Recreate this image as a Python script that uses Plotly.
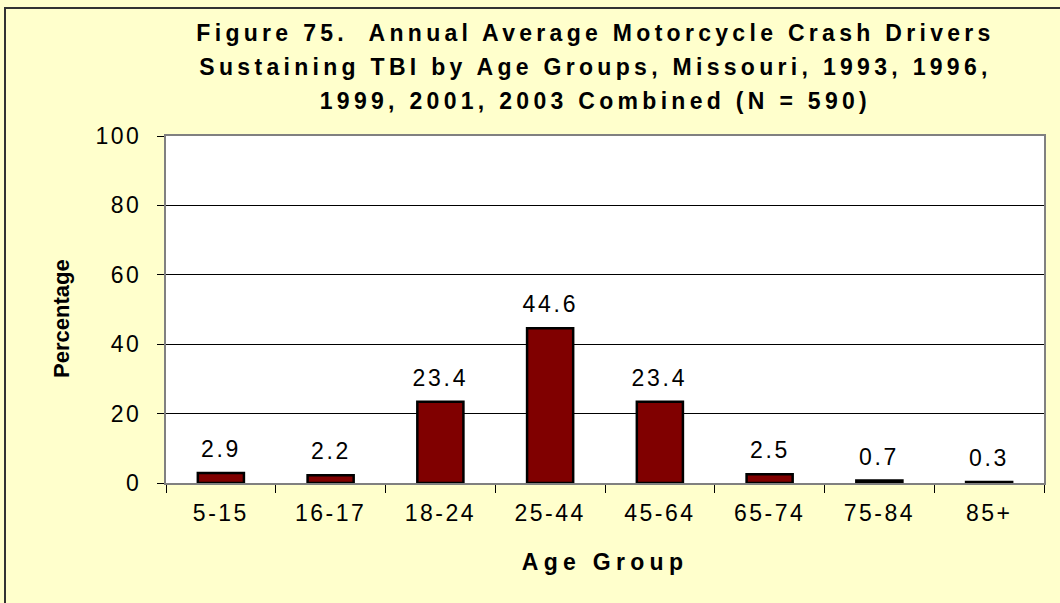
import plotly.graph_objects as go

# Age groups and share (%) of motorcycle crash drivers sustaining TBI
age_groups = ["5-15", "16-17", "18-24", "25-44", "45-64", "65-74", "75-84", "85+"]
percentages = [2.9, 2.2, 23.4, 44.6, 23.4, 2.5, 0.7, 0.3]
y_ticks = [0, 20, 40, 60, 80, 100]
title_lines = [
    "Figure 75.  Annual Average Motorcycle Crash Drivers",
    "Sustaining TBI by Age Groups, Missouri, 1993, 1996,",
    "1999, 2001, 2003 Combined (N = 590)",
]

W, H = 1060, 603
L, R, T, B = 166, 1044, 136, 483
FONT = "Liberation Sans, Arial, sans-serif"


def px_x(px):
    return (px - L) / (R - L)


def px_y(py):
    return (B - py) / (B - T)


fig = go.Figure()
fig.add_trace(go.Bar(
    x=age_groups,
    y=percentages,
    width=0.42,
    marker=dict(color="#800000", line=dict(color="#000000", width=2.5)),
    hoverinfo="x+y",
))

annotations = []
for cat, val in zip(age_groups, percentages):
    annotations.append(dict(
        x=cat, y=val, xref="x", yref="y", text=f"{val:.1f}",
        showarrow=False, yanchor="bottom", yshift=9,
        font=dict(family=FONT, size=23, color="#000000"),
    ))

title_y = [33, 67, 101]
for line, ty in zip(title_lines, title_y):
    annotations.append(dict(
        x=px_x(595), y=px_y(ty), xref="paper", yref="paper", text=f"<b>{line}</b>",
        showarrow=False, xanchor="center", yanchor="middle",
        font=dict(family=FONT, size=23, color="#000000"),
    ))

# vertical axis title
annotations.append(dict(
    x=px_x(61), y=px_y(319), xref="paper", yref="paper", text="<b>Percentage</b>",
    showarrow=False, xanchor="center", yanchor="middle", textangle=-90,
    font=dict(family=FONT, size=22, color="#000000"),
))

shapes = [
    # frame around the whole chart
    dict(type="rect", xref="paper", yref="paper",
         x0=px_x(5), x1=px_x(1075), y0=px_y(8), y1=px_y(620),
         line=dict(color="#333333", width=2), layer="below"),
]

fig.update_layout(
    width=W, height=H,
    margin=dict(l=L, r=W - R, t=T, b=H - B, autoexpand=False),
    paper_bgcolor="#FFFFCC",
    plot_bgcolor="#FFFFFF",
    showlegend=False,
    annotations=annotations,
    shapes=shapes,
    font=dict(family=FONT, color="#000000"),
)

fig.update_xaxes(
    type="category",
    tickson="boundaries",
    ticks="outside", ticklen=8, tickcolor="#000000", tickwidth=1,
    ticklabelstandoff=8,
    tickfont=dict(family=FONT, size=23, color="#000000"),
    showline=True, linecolor="#808080", linewidth=2, mirror=True,
    showgrid=False,
    title=dict(text="<b>Age Group</b>", font=dict(family=FONT, size=23, color="#000000"), standoff=29),
    fixedrange=True,
)
fig.update_yaxes(
    range=[0, 100],
    tickvals=y_ticks,
    ticks="outside", ticklen=7, tickcolor="#000000", tickwidth=1,
    ticklabelstandoff=11,
    tickfont=dict(family=FONT, size=23, color="#000000"),
    showline=True, linecolor="#808080", linewidth=2, mirror=True,
    showgrid=True, gridcolor="#000000", gridwidth=1,
    zeroline=False,
    fixedrange=True,
)

# Widen character tracking on the chart texts
letter_spacing = """
var s = document.createElement('style');
s.textContent = [
  '.xtick text, .ytick text {letter-spacing: 2.5px;}',
  '.annotation[data-index="0"] text, .annotation[data-index="1"] text, .annotation[data-index="2"] text,',
  '.annotation[data-index="3"] text, .annotation[data-index="4"] text, .annotation[data-index="5"] text,',
  '.annotation[data-index="6"] text, .annotation[data-index="7"] text {letter-spacing: 2.7px;}',
  '.annotation[data-index="8"] text, .annotation[data-index="9"] text, .annotation[data-index="10"] text {letter-spacing: 4.3px;}',
  '.xtitle {letter-spacing: 5.3px;}'
].join('\\n');
document.head.appendChild(s);
"""

fig.write_html("out.html", post_script=letter_spacing, config={"displayModeBar": False})
